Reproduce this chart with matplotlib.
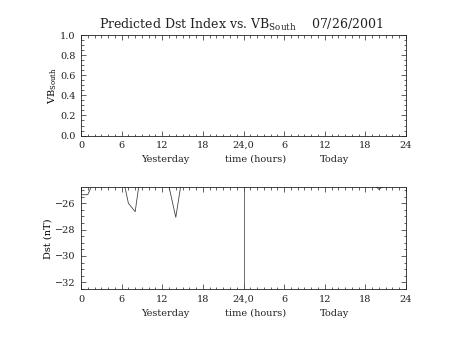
import matplotlib
matplotlib.use("Agg")
import matplotlib.pyplot as plt
from matplotlib.ticker import MultipleLocator, FixedLocator
from matplotlib.transforms import blended_transform_factory

plt.rcParams['font.family'] = ['DejaVu Serif']
plt.rcParams['mathtext.fontset'] = 'dejavuserif'

# ---- data ----
hours = list(range(0, 49))
dst = [-25.35, -25.35, -24.2, -23.5, -23.0, -23.2, -23.6, -26.0, -26.64, -23.0,
       -22.8, -23.1, -23.6, -24.75, -27.07, -23.8, -23.2, -22.9, -22.7, -22.5,
       -22.6, -22.9, -23.1, -23.4, -23.5, -23.3, -23.1, -23.0, -22.9, -22.8,
       -23.0, -23.2, -23.4, -23.5, -23.6, -23.7, -23.8, -23.9, -24.0, -24.1,
       -24.2, -24.3, -24.4, -24.45, -24.95, -24.59, -24.5, -24.4, -24.3]
vb = [0.0] * 49
now_hour = 24
xtick_vals = [0, 6, 12, 18, 24, 30, 36, 42, 48]
xtick_labels = ['0', '6', '12', '18', '24,0', '6', '12', '18', '24']
xtitle_parts = [(12.4, 'Yesterday'), (25.8, 'time (hours)'), (37.4, 'Today')]
vb_ticks = [0.0, 0.2, 0.4, 0.6, 0.8, 1.0]
dst_ticks = [-32, -30, -28, -26]
title = r'Predicted Dst Index vs. VB$_{\rm South}$    07/26/2001'

W, H = 454, 341
fig = plt.figure(figsize=(W / 100, H / 100), dpi=100)

def ax_rect(x0, y0, x1, y1):
    return [x0 / W, 1 - y1 / H, (x1 - x0) / W, (y1 - y0) / H]

ax1 = fig.add_axes(ax_rect(81, 35.5, 406, 135.5))
ax2 = fig.add_axes(ax_rect(81, 187.3, 406, 289.3))

fs = 7
for ax in (ax1, ax2):
    ax.set_xlim(0, 48)
    ax.xaxis.set_major_locator(FixedLocator(xtick_vals))
    ax.set_xticklabels(xtick_labels, fontsize=fs)
    ax.xaxis.set_minor_locator(MultipleLocator(1))
    ax.tick_params(which='both', direction='in', top=True, right=True,
                   colors='#222222', width=0.5, labelsize=fs, pad=4)
    ax.tick_params(which='major', length=3.5)
    ax.tick_params(which='minor', length=1.8)
    for s in ax.spines.values():
        s.set_linewidth(0.6)
        s.set_color('#222222')
    tr = blended_transform_factory(ax.transData, ax.transAxes)
    for xp, txt in xtitle_parts:
        ax.text(xp, -0.235, txt, transform=tr, ha='center', va='center',
                fontsize=fs, color='#222222')

ax1.plot(hours, vb, color='#444444', lw=0.6, clip_on=True)
ax1.set_ylim(0, 1.0)
ax1.yaxis.set_major_locator(FixedLocator(vb_ticks))
ax1.set_yticklabels([f'{v:.1f}' for v in vb_ticks], fontsize=fs)
ax1.yaxis.set_minor_locator(MultipleLocator(0.05))
ax1.set_ylabel(r'VB$_{\rm South}$', fontsize=fs, labelpad=1)

ax2.plot(hours, dst, color='#444444', lw=0.6)
ax2.axvline(now_hour, color='#555555', lw=0.6)
ax2.set_ylim(-32.53, -24.79)
ax2.yaxis.set_major_locator(FixedLocator(dst_ticks))
ax2.set_yticklabels([f'\u2212{abs(v)}' for v in dst_ticks], fontsize=fs)
ax2.yaxis.set_minor_locator(MultipleLocator(0.5))
ax2.set_ylabel('Dst (nT)', fontsize=fs, labelpad=2)

fig.text(241 / W, 1 - 25 / H, title, ha='center', va='center', fontsize=9,
         color='#222222')

fig.savefig('out.png', dpi=100)
